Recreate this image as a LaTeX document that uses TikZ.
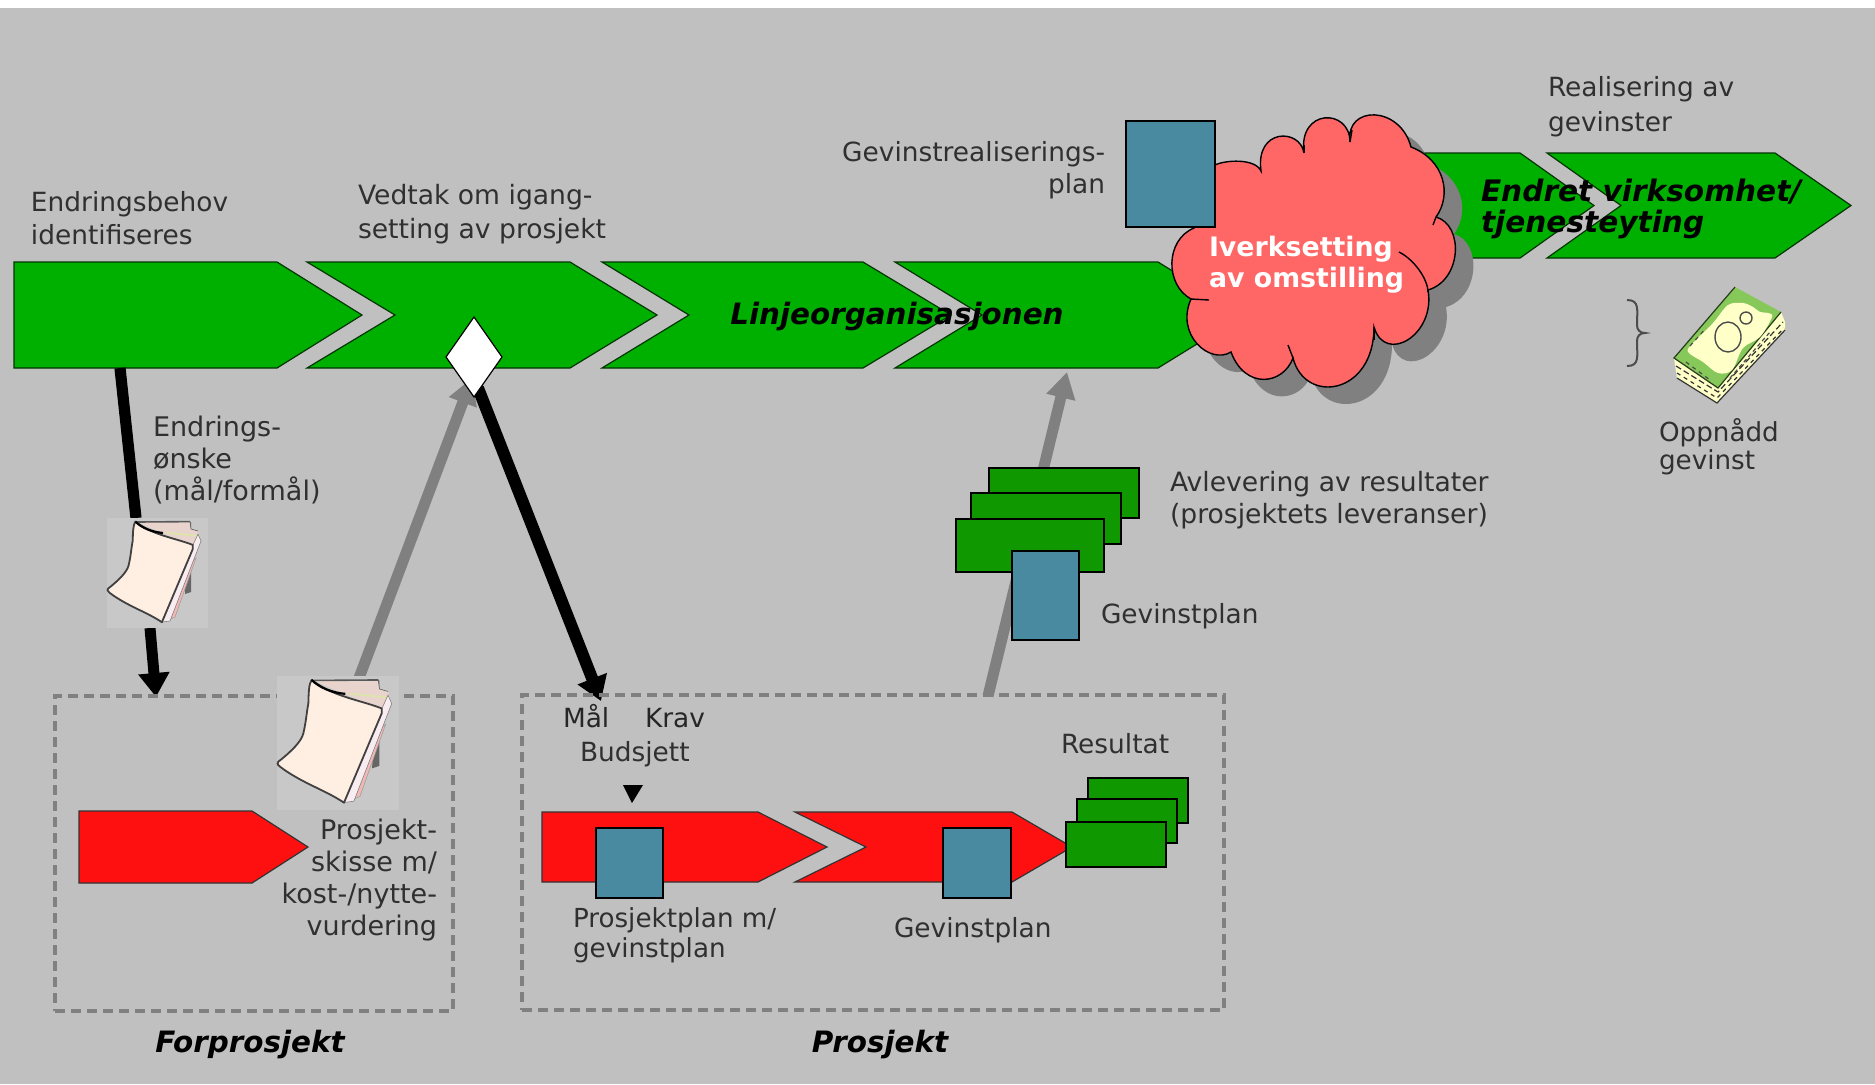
\documentclass[tikz,border=0pt]{standalone}
\usepackage{fontspec}
\setmainfont{DejaVu Sans}
\usetikzlibrary{arrows.meta,shapes.geometric}
\definecolor{bg}{HTML}{C0C0C0}
\definecolor{chevgreen}{HTML}{00B000}
\definecolor{stackgreen}{HTML}{109800}
\definecolor{planblue}{HTML}{4A8AA0}
\definecolor{chevred}{HTML}{FF1010}
\definecolor{cloudred}{HTML}{FF6666}
\definecolor{midgray}{HTML}{808080}
\definecolor{txt}{HTML}{303030}
\definecolor{paperfront}{HTML}{FFEEE2}
\definecolor{paperbox}{HTML}{C8C8C8}
\definecolor{billgreen}{HTML}{86C85A}
\definecolor{billcream}{HTML}{FFFFC8}
\definecolor{pageband}{HTML}{E8D4CC}
\definecolor{pageline}{HTML}{DCE6A8}
\definecolor{pagepink}{HTML}{F0B8B4}
\definecolor{pagelilac}{HTML}{F8ECF0}
% name, style, x1, y1, x2, y2
\newcommand{\boxnode}[6]{\node[#2,inner sep=0pt,outer sep=0pt,minimum width={(#5-#3)*0.5pt},minimum height={(#6-#4)*0.5pt}] (#1) at ({(#3+#5)/2},{(#4+#6)/2}) {};}
% style, left, notch, shoulder, tip, top, bottom
\newcommand{\chevron}[7]{\draw[#1] (#2,#6) -- (#4,#6) -- (#5,{(#6+#7)/2}) -- (#4,#7) -- (#2,#7) -- (#3,{(#6+#7)/2}) -- cycle;}
\newcommand{\cloudshape}{(1350,142) .. controls (1345,105) and (1400,105) .. (1411,147)
  .. controls (1445,160) and (1452,195) .. (1436,217)
  .. controls (1464,225) and (1462,280) .. (1428,290)
  .. controls (1436,335) and (1385,365) .. (1374,327)
  .. controls (1374,395) and (1305,405) .. (1293,358)
  .. controls (1283,385) and (1245,390) .. (1231,352)
  .. controls (1210,365) and (1175,335) .. (1191,299)
  .. controls (1165,285) and (1165,240) .. (1194,228)
  .. controls (1185,190) and (1200,165) .. (1215,165)
  .. controls (1225,160) and (1255,158) .. (1261,171)
  .. controls (1255,128) and (1300,128) .. (1304,153)
  .. controls (1298,108) and (1350,108) .. (1350,142) -- cycle}
\tikzset{
  chevg/.style={fill=chevgreen,draw=black!70!chevgreen,line width=0.6pt,line join=miter},
  chevr/.style={fill=chevred,draw=black!80,line width=0.6pt},
  planbox/.style={rectangle,fill=planblue,draw=black,line width=0.7pt},
  greenbox/.style={rectangle,fill=stackgreen,draw=black,line width=0.7pt},
  dashbox/.style={rectangle,draw=midgray,line width=1.7pt,dash pattern=on 5pt off 3pt},
  graybox/.style={rectangle,fill=paperbox},
  label/.style={text=txt,font=\fontsize{13.2}{16.2}\selectfont,inner sep=0pt,outer sep=0pt},
  bolditalic/.style={text=black,font=\fontsize{14.7}{15.5}\selectfont\bfseries\itshape,inner sep=0pt,outer sep=0pt},
  blackarrow/.style={draw=black,line width=5.6pt,-{Triangle[length=12pt,width=15pt]}},
  grayarrow/.style={draw=midgray,line width=5.5pt,-{Triangle[length=13pt,width=14pt]}},
  paperstack/.pic={
    \fill[black!60] (80,2) -- (84,2) -- (84,72) -- (78,74) -- cycle;
    \fill[pageband] (30,2) -- (83,1.6) -- (84,9) -- (91,11) -- (94,21) -- (86,27) -- cycle;
    \draw[black!65,line width=0.3pt] (83,1.6) -- (84,9) -- (91,11);
    \draw[black!65,line width=0.8pt] (30,2) -- (83,1.6);
    \draw[pageline,line width=0.8pt] (60,13) -- (92,16);
    \fill[pagepink,draw=black!40,line width=0.25pt] (59,101) -- (68,97) -- (89,38) -- (80,45) -- cycle;
    \fill[pagelilac,draw=black!50,line width=0.3pt] (55,102) -- (63,101) -- (94,21) -- (91,14) -- (86,25) -- cycle;
    \draw[fill=paperfront,draw=black!75,line width=0.9pt,line join=round] (28.4,1.6) .. controls (45,15) and (68,18) .. (85.8,24.9)
      -- (85.8,29) -- (54.9,102.2)
      .. controls (40,92) and (20,86) .. (2.5,72.7)
      .. controls (0,71) and (0,69) .. (1.1,68.6)
      .. controls (12,60) and (20,52) .. (21.6,45.4) .. controls (24,35) and (24,30) .. (25.7,20.8) .. controls (26,12) and (26,5) .. (28.4,1.6) -- cycle;
    \draw[black,line width=1.1pt] (28.4,1.6) .. controls (35,8) and (45,12) .. (56,13);
  }
}
\begin{document}
\begin{tikzpicture}[x=0.5pt,y=-0.5pt]
\useasboundingbox (0,0) rectangle (1875,1084);
\fill[white] (0,0) rectangle (1875,1084);
\fill[bg] (0,8) rectangle (1875,1084);

% named connector ends
\coordinate (chevOneBottom) at (120,368);
\coordinate (paperSmallTop) at (136,518);
\coordinate (paperSmallBottom) at (150,628);
\coordinate (forprosjektTop) at (156,697);
\coordinate (skisseTop) at (359,678);
\coordinate (gateIn) at (472,378);
\coordinate (gateOut) at (478,388);
\coordinate (prosjektTop) at (601,701);
\coordinate (prosjektTopRight) at (988,696);
\coordinate (linjeBottom) at (1067,372);

% main chevrons
\chevron{chevg}{14}{14}{277}{362}{262}{368}
\chevron{chevg}{307}{395}{570}{657}{262}{368}
\chevron{chevg}{602}{689}{863}{951}{262}{368}
\chevron{chevg}{895}{982}{1158}{1244}{262}{368}
% top right chevrons
\chevron{chevg}{1400}{1400}{1520}{1594}{153}{258}
\chevron{chevg}{1547}{1621}{1775}{1851}{153}{258}

% cloud and shadow
\fill[midgray,shift={(18,17)}] \cloudshape;
\draw[fill=cloudred,draw=black,line width=0.7pt] \cloudshape;
\draw[black,line width=0.7pt] (1399,252) .. controls (1415,260) and (1428,280) .. (1428,292);
\draw[black,line width=0.7pt] (1191,299) -- (1209,300);
\draw[black,line width=0.7pt] (1374,327) -- (1374,340);
\draw[black,line width=0.7pt] (1293,358) -- (1288,345);
\draw[black,line width=0.7pt] (1350,142) -- (1352,130);
\draw[black,line width=0.7pt] (1304,153) -- (1304,145);
\draw[black,line width=0.7pt] (1436,217) -- (1433,225);

% arrows behind
\draw[grayarrow] (prosjektTopRight) -- (linjeBottom);
\draw[grayarrow] (skisseTop) -- (gateIn);
\draw[blackarrow,-] (chevOneBottom) -- (paperSmallTop);
\draw[blackarrow,line width=5.5pt] (paperSmallBottom) -- (forprosjektTop);
\draw[blackarrow,line width=6pt] (gateOut) -- (prosjektTop);

% gate
\node[diamond,fill=white,draw=black,line width=0.6pt,inner sep=0pt,outer sep=0pt,aspect=0.7,minimum width=28pt,minimum height=40pt] (gate) at (474,357) {};

% boxes
\boxnode{forprosjektBox}{dashbox}{55}{696}{453}{1011}
\boxnode{prosjektBox}{dashbox}{522}{695}{1224}{1010}

% papers
\boxnode{paperSmall}{graybox}{107}{518}{208}{628}
\pic at (107,520) {paperstack};
\boxnode{paperLarge}{graybox}{277}{676}{399}{810}
\pic[scale=1.22] at (277,678) {paperstack};

% red chevrons
\chevron{chevr}{79}{79}{252}{308}{811}{883}
\chevron{chevr}{542}{542}{758}{827}{812}{882}
\chevron{chevr}{795}{866}{1012}{1072}{812}{882}
\path[fill=black] (623,785) -- (643,785) -- (632,803) -- cycle;

% plan boxes
\boxnode{planTop}{planbox}{1126}{121}{1215}{227}
\boxnode{planOne}{planbox}{596}{828}{663}{898}
\boxnode{planTwo}{planbox}{943}{828}{1011}{898}

% result stacks
\boxnode{resultA}{greenbox}{1088}{778}{1188}{823}
\boxnode{resultB}{greenbox}{1077}{799}{1177}{843}
\boxnode{resultC}{greenbox}{1066}{822}{1166}{867}
\boxnode{deliverA}{greenbox}{989}{468}{1139}{518}
\boxnode{deliverB}{greenbox}{971}{493}{1121}{544}
\boxnode{deliverC}{greenbox}{956}{519}{1104}{572}
\boxnode{planMid}{planbox}{1012}{551}{1079}{640}

% brace
\draw[black!70,line width=1pt] (1627,300) .. controls (1640,300) and (1637,310) .. (1637,325) .. controls (1637,330) and (1640,333) .. (1645,333)
  .. controls (1640,333) and (1637,336) .. (1637,341) .. controls (1637,356) and (1640,366) .. (1627,366);

% money
\fill[billcream] (1674,358) -- (1677,378) -- (1717,403) -- (1785,330) -- (1785,322) -- (1781,312) -- cycle;
\draw[black!80,line width=0.6pt,dash pattern=on 3pt off 1.5pt] (1676,366) -- (1718,392) -- (1783,322);
\draw[black!80,line width=0.6pt,dash pattern=on 2pt off 2pt] (1677,373) -- (1717,398) -- (1784,328);
\draw[black!80,line width=0.6pt] (1677,378) -- (1717,403) -- (1785,330);
\fill[billgreen] (1735,287) -- (1781,312) -- (1718,388) -- (1674,358) -- cycle;
\draw[black!70!billgreen,line width=0.6pt] (1735,287) -- (1674,358) -- (1718,388) -- (1781,312);
\fill[billcream] plot[smooth cycle,tension=0.55] coordinates {(1728,305) (1743,303) (1753,307) (1760,312) (1768,313) (1772,317) (1760,337) (1743,348) (1732,370) (1718,373) (1703,362) (1688,352) (1693,343) (1713,323)};
\draw[black!70,line width=0.7pt] (1728,337) ellipse[x radius=13,y radius=15];
\draw[black!70,line width=0.7pt] (1746,318) circle[radius=6];
\draw[black!70,line width=0.6pt,dash pattern=on 2pt off 2pt] (1690,346) -- (1706,328);
\draw[black!70,line width=0.6pt,dash pattern=on 2pt off 1.5pt] (1730,378) -- (1770,332);
\draw[black!70,line width=0.6pt,dash pattern=on 2pt off 2pt] (1686,362) -- (1710,380);

% texts
\node[label,align=left,anchor=west] (t1) at (31,218) {Endringsbehov\\identifiseres};
\node[label,align=left,anchor=west,font=\fontsize{13.3}{17.3}\selectfont] (t2) at (358,214) {Vedtak om igang-\\setting av prosjekt};
\node[label,align=right,anchor=east] (t3) at (1105,170) {Gevinstrealiserings-\\plan};
\node[label,align=left,anchor=west,font=\fontsize{13.2}{17.3}\selectfont] (t4) at (1548,107) {Realisering av\\gevinster};
\node[label,align=left,anchor=west,font=\fontsize{13.5}{16.2}\selectfont] (t5) at (153,460) {Endrings-\\ønske\\(mål/formål)};
\node[label,align=right,anchor=east,font=\fontsize{13.5}{15.9}\selectfont] (t6) at (437,880) {Prosjekt-\\skisse m/\\kost-/nytte-\\vurdering};
\node[label,align=left,anchor=west,font=\fontsize{13.3}{16.2}\selectfont] (t7) at (1170,500) {Avlevering av resultater\\(prosjektets leveranser)};
\node[label,anchor=west] (t8) at (1101,616) {Gevinstplan};
\node[label,align=left,anchor=west,font=\fontsize{13.1}{14}\selectfont] (t9) at (1659,447) {Oppnådd\\gevinst};
\node[label,anchor=base west,text=black!85] (t10) at (563,727) {Mål};
\node[label,anchor=base west,text=black!85] (t11) at (645,727) {Krav};
\node[label,anchor=west] (t12) at (580,754) {Budsjett};
\node[label,anchor=west] (t13) at (1061,744) {Resultat};
\node[label,align=left,anchor=west,font=\fontsize{13.1}{15}\selectfont] (t14) at (573,935) {Prosjektplan m/\\gevinstplan};
\node[label,anchor=west] (t15) at (894,930) {Gevinstplan};
\node[bolditalic] (t16) at (250,1044) {Forprosjekt};
\node[bolditalic] (t17) at (880,1044) {Prosjekt};
\node[bolditalic] (t18) at (897,316) {Linjeorganisasjonen};
\node[bolditalic,align=left,anchor=west,text=white,font=\fontsize{13.4}{15.5}\selectfont\bfseries] (t19) at (1209,265) {Iverksetting\\av omstilling};
\node[bolditalic,align=left,anchor=west,font=\fontsize{14.8}{15.5}\selectfont\bfseries\itshape] (t20) at (1481,209) {Endret virksomhet/\\tjenesteyting};
\end{tikzpicture}
\end{document}
